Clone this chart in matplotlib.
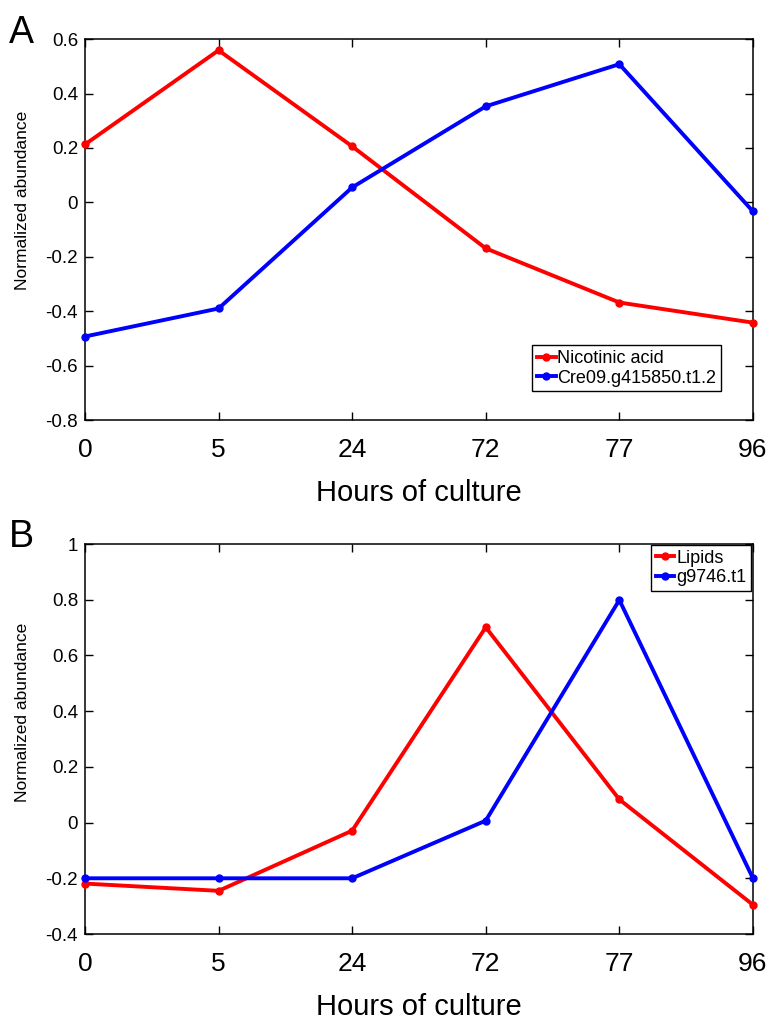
import matplotlib.pyplot as plt
import numpy as np

plt.rcParams['font.family'] = ['Liberation Sans', 'DejaVu Sans']

hours = ["0", "5", "24", "72", "77", "96"]

# panel A
nicotinic = [0.213, 0.559, 0.206, -0.169, -0.368, -0.442]
cre09 = [-0.493, -0.390, 0.055, 0.353, 0.508, -0.033]

# panel B
lipids = [-0.219, -0.245, -0.029, 0.701, 0.083, -0.295]
g9746 = [-0.200, -0.200, -0.200, 0.007, 0.799, -0.200]

fig = plt.figure(figsize=(7.69, 10.22), dpi=100)
axA = fig.add_axes([0.1105, 0.589, 0.8686, 0.3727])
axB = fig.add_axes([0.1105, 0.0861, 0.8686, 0.3816])

x = np.arange(len(hours))


def style(ax, ylim, yticks, ylabels, ylab_y):
    ax.set_xlim(0, len(hours) - 1)
    ax.set_ylim(*ylim)
    ax.set_xticks(x, labels=hours)
    ax.set_yticks(yticks, labels=ylabels)
    ax.tick_params(axis='x', direction='in', top=True, length=6, width=1,
                   labelsize=19, pad=13)
    ax.tick_params(axis='y', direction='in', right=True, length=6, width=1,
                   labelsize=13.5, pad=5)
    for s in ax.spines.values():
        s.set_linewidth(1.1)
    ax.set_xlabel("Hours of culture", fontsize=21, labelpad=12)
    ax.set_ylabel("Normalized abundance", fontsize=12.5)
    ax.yaxis.set_label_coords(-0.082, ylab_y)


def legend(ax, loc, anchor):
    leg = ax.legend(loc=loc, bbox_to_anchor=anchor, fontsize=13,
                    frameon=True, fancybox=False, edgecolor='black',
                    handlelength=1.05, handletextpad=0.1, borderpad=0.25,
                    labelspacing=0.15, borderaxespad=0, framealpha=1)
    leg.get_frame().set_linewidth(1)


lw, ms = 2.8, 5
axA.plot(x, nicotinic, color='#ff0000', lw=lw, marker='o', ms=ms,
         label="Nicotinic acid", clip_on=False, zorder=3)
axA.plot(x, cre09, color='#0000ff', lw=lw, marker='o', ms=ms,
         label="Cre09.g415850.t1.2", clip_on=False, zorder=3)
style(axA, (-0.8, 0.6), np.arange(-0.8, 0.61, 0.2),
      ["-0.8", "-0.6", "-0.4", "-0.2", "0", "0.2", "0.4", "0.6"], 0.577)
legend(axA, 'lower right', (0.952, 0.076))

axB.plot(x, lipids, color='#ff0000', lw=lw, marker='o', ms=ms,
         label="Lipids", clip_on=False, zorder=3)
axB.plot(x, g9746, color='#0000ff', lw=lw, marker='o', ms=ms,
         label="g9746.t1", clip_on=False, zorder=3)
style(axB, (-0.4, 1.0), np.arange(-0.4, 1.01, 0.2),
      ["-0.4", "-0.2", "0", "0.2", "0.4", "0.6", "0.8", "1"], 0.569)
legend(axB, 'upper right', (0.997, 0.997))

fig.text(0.012, 0.958, "A", fontsize=27, va='baseline')
fig.text(0.012, 0.4648, "B", fontsize=27, va='baseline')

fig.savefig("out.png", dpi=100)
